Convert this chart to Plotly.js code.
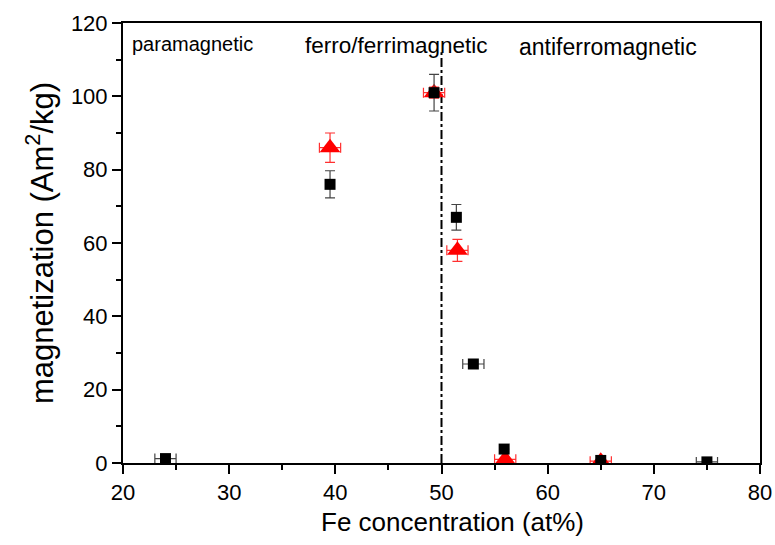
<!DOCTYPE html>
<html><head><meta charset="utf-8">
<script src="https://cdn.plot.ly/plotly-3.0.1.min.js"></script>
<style>body{margin:0;background:#fff}#c{width:775px;height:545px}</style>
</head><body><div id="c"></div>
<script>
// Black squares series
const sqX = [24, 39.5, 49.3, 51.4, 53, 55.9, 65, 75];
const sqY = [1.2, 76, 101, 67, 27, 3.8, 0.7, 0.3];
const sqErrY = [0, 3.7, 5, 3.5, 0, 0, 0, 0];
const sqErrX = [1, 0, 0, 0, 1, 0, 0, 1];
// Red triangles series
const trX = [39.5, 49.3, 51.5, 56, 65];
const trY = [86, 101, 58, 1.0, 0.5];
const trErrY = [4, 1.5, 3, 0, 0];
const trErrX = [1, 1, 1, 1, 1];
// Boundary line
const lineX = [50, 50];
const lineY = [0, 112];
// Region labels
const regionLabels = ['paramagnetic', 'ferro/ferrimagnetic', 'antiferromagnetic'];
const xTitle = 'Fe concentration (at%)';
const yTitle = 'magnetization (Am<sup>2</sup>/kg)';

const traces = [
  {x: lineX, y: lineY, mode: 'lines', line: {color: '#000', width: 2, dash: 'dashdot'}, hoverinfo: 'skip', showlegend: false},
  {x: trX, y: trY, mode: 'markers', type: 'scatter',
   marker: {symbol: 'triangle-up', size: 18, color: '#ff0000'},
   error_y: {type: 'data', array: trErrY, visible: true, color: '#ff3030', thickness: 1.2, width: 5},
   error_x: {type: 'data', array: trErrX, visible: true, color: '#ff3030', thickness: 1.2, width: 5},
   showlegend: false},
  {x: sqX, y: sqY, mode: 'markers', type: 'scatter',
   marker: {symbol: 'square', size: 11, color: '#000'},
   error_y: {type: 'data', array: sqErrY, visible: true, color: '#444', thickness: 1.2, width: 5},
   error_x: {type: 'data', array: sqErrX, visible: true, color: '#444', thickness: 1.2, width: 5},
   showlegend: false}
];

const layout = {
  width: 775, height: 545,
  margin: {l: 123, r: 15, t: 23, b: 82},
  paper_bgcolor: '#fff', plot_bgcolor: '#fff',
  font: {family: 'Liberation Sans, Arial, sans-serif', color: '#000'},
  showlegend: false,
  xaxis: {
    range: [20, 80], dtick: 10, tick0: 20,
    ticks: 'outside', ticklen: 9, tickwidth: 2, tickcolor: '#000',
    minor: {dtick: 5, ticks: 'outside', ticklen: 5, tickwidth: 2, tickcolor: '#000'},
    showline: true, linecolor: '#000', linewidth: 2, mirror: true,
    showgrid: false, zeroline: false,
    tickfont: {size: 22}
  },
  yaxis: {
    range: [0, 120], dtick: 20, tick0: 0,
    ticks: 'outside', ticklen: 9, tickwidth: 2, tickcolor: '#000',
    minor: {dtick: 10, ticks: 'outside', ticklen: 5, tickwidth: 2, tickcolor: '#000'},
    showline: true, linecolor: '#000', linewidth: 2, mirror: true,
    showgrid: false, zeroline: false,
    tickfont: {size: 22},
    title: {text: yTitle, font: {size: 31}, standoff: 8}
  },
  annotations: [
    {x: 20.66, y: 114.3, xref: 'x', yref: 'y', text: regionLabels[0], showarrow: false, xanchor: 'left', yanchor: 'middle', font: {size: 20}},
    {x: 36.95, y: 113.8, xref: 'x', yref: 'y', text: regionLabels[1], showarrow: false, xanchor: 'left', yanchor: 'middle', font: {size: 22.5}},
    {x: 57.1, y: 113.5, xref: 'x', yref: 'y', text: regionLabels[2], showarrow: false, xanchor: 'left', yanchor: 'middle', font: {size: 23}},
    {x: 453/775, y: 522/545, xref: 'paper', yref: 'paper', text: xTitle, showarrow: false, xanchor: 'center', yanchor: 'middle', font: {size: 26}}
  ]
};
// paper coords for x title: convert from pixel positions relative to plot area
layout.annotations[3].x = (453 - 123) / (775 - 123 - 15);
layout.annotations[3].y = -(522 - (545 - 82)) / (545 - 23 - 82);
Plotly.newPlot('c', traces, layout, {displayModeBar: false, staticPlot: true});
</script></body></html>
